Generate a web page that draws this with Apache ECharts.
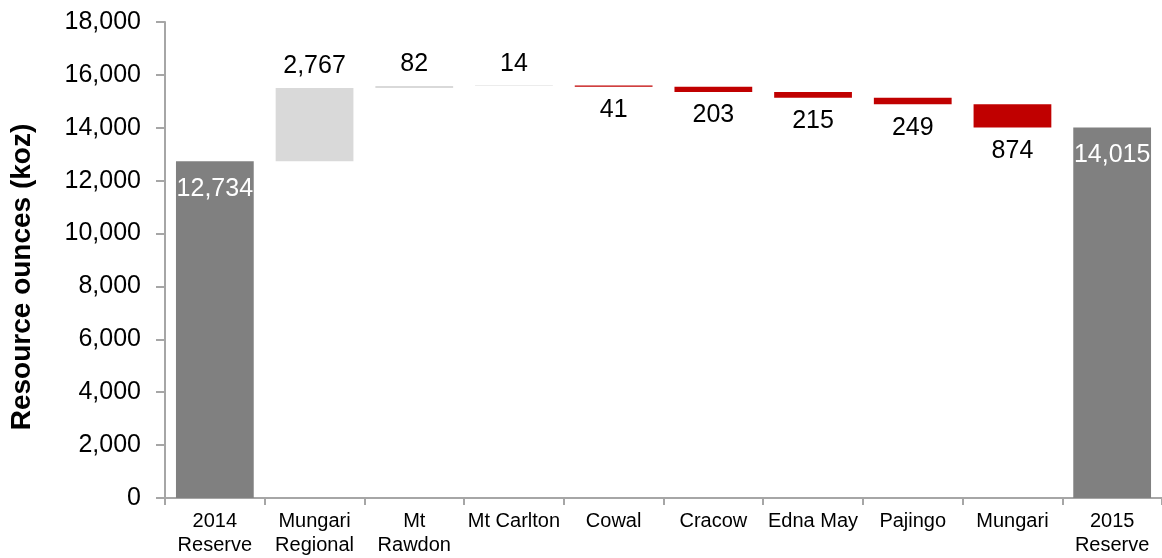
<!DOCTYPE html>
<html>
<head>
<meta charset="utf-8">
<script src="https://cdn.jsdelivr.net/npm/echarts@6/dist/echarts.min.js"></script>
<style>
html, body { margin: 0; padding: 0; background: #fff; }
#chart { width: 1162px; height: 558px; }
</style>
</head>
<body>
<div id="chart"></div>
<script>
// categories and values
var categories = ['2014\nReserve', 'Mungari\nRegional', 'Mt\nRawdon', 'Mt Carlton', 'Cowal', 'Cracow', 'Edna May', 'Pajingo', 'Mungari', '2015\nReserve'];
var startTotal = 12734;
var endTotal = 14015;
var changes = [2767, 82, 14, -41, -203, -215, -249, -874];
var yTicks = [0, 2000, 4000, 6000, 8000, 10000, 12000, 14000, 16000, 18000];

/* build waterfall stacks */
var baseData = ['-'];
var totalData = [startTotal];
var upData = ['-'];
var downData = ['-'];
var running = startTotal;
changes.forEach(function (c) {
	if (c >= 0) {
		baseData.push(running);
		upData.push(c);
		downData.push('-');
		running += c;
	} else {
		running += c;
		baseData.push(running);
		upData.push('-');
		downData.push(-c);
	}
	totalData.push('-');
});
baseData.push('-');
totalData.push(endTotal);
upData.push('-');
downData.push('-');

function fmt(v) {
	return Number(v).toLocaleString('en-US');
}

var font = 'Liberation Sans, Arial, sans-serif';
var myChart = echarts.init(document.getElementById('chart'));
var option = {
	animation: false,
	grid: { left: 162, right: -6, top: 22, bottom: 60 },
	xAxis: {
		type: 'category',
		data: categories,
		axisLine: { lineStyle: { color: '#a6a6a6', width: 2 } },
		axisTick: { show: true, length: 7, lineStyle: { color: '#a6a6a6', width: 2 } },
		axisLabel: { color: '#000', fontFamily: font, fontSize: 20, lineHeight: 24, margin: 11, interval: 0 }
	},
	yAxis: {
		type: 'value',
		min: yTicks[0],
		max: yTicks[yTicks.length - 1],
		interval: 2000,
		name: 'Resource ounces (koz)',
		nameLocation: 'middle',
		nameGap: 129,
		nameTextStyle: { color: '#000', fontFamily: font, fontSize: 28, fontWeight: 'bold', padding: [0, 34, 0, 0] },
		axisLine: { show: true, lineStyle: { color: '#a6a6a6', width: 2 } },
		axisTick: { show: true, length: 9, lineStyle: { color: '#a6a6a6', width: 2 } },
		axisLabel: { color: '#000', fontFamily: font, fontSize: 25, margin: 24, formatter: function (v) { return fmt(v); } },
		splitLine: { show: false }
	},
	series: [
		{
			name: 'base', type: 'bar', stack: 'w', barCategoryGap: '22%',
			itemStyle: { color: 'transparent' },
			data: baseData
		},
		{
			name: 'total', type: 'bar', stack: 'w',
			itemStyle: { color: '#808080' },
			label: { show: true, position: 'insideTop', distance: 15, color: '#fff', fontFamily: font, fontSize: 25, formatter: function (p) { return fmt(p.value); } },
			data: totalData
		},
		{
			name: 'up', type: 'bar', stack: 'w',
			itemStyle: { color: '#d9d9d9' },
			label: { show: true, position: 'top', distance: 9, color: '#000', fontFamily: font, fontSize: 25, formatter: function (p) { return fmt(p.value); } },
			data: upData
		},
		{
			name: 'down', type: 'bar', stack: 'w',
			itemStyle: { color: '#c00000' },
			label: { show: true, position: 'bottom', distance: 11, color: '#000', fontFamily: font, fontSize: 25, formatter: function (p) { return fmt(p.value); } },
			data: downData
		}
	]
};
myChart.setOption(option);
</script>
</body>
</html>
